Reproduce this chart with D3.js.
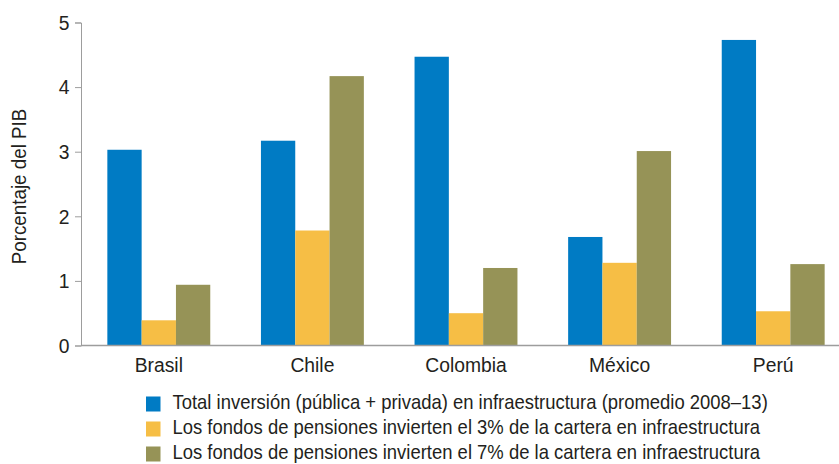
<!DOCTYPE html>
<html lang="es">
<head>
    <meta charset="UTF-8">
    <title>Inversión en infraestructura</title>
    <script src="https://d3js.org/d3.v7.min.js"></script>
    <style>
        body { margin: 0; background: #fff; }
        text { font-family: "Liberation Sans", Arial, sans-serif; fill: #231f20; }
    </style>
</head>
<body>
    <svg id="chart" width="839" height="464"></svg>
    <script>
        const countries = ["Brasil", "Chile", "Colombia", "México", "Perú"];
        const totalInversion = [3.03, 3.17, 4.47, 1.68, 4.73];
        const fondos3 = [0.39, 1.78, 0.50, 1.28, 0.53];
        const fondos7 = [0.94, 4.17, 1.20, 3.01, 1.26];
        const seriesNames = [
            "Total inversión (pública + privada) en infraestructura (promedio 2008–13)",
            "Los fondos de pensiones invierten el 3% de la cartera en infraestructura",
            "Los fondos de pensiones invierten el 7% de la cartera en infraestructura"
        ];
        const yTicks = [0, 1, 2, 3, 4, 5];

        const colors = ["#007bc4", "#f6be45", "#969357"];
        const seriesValues = [totalInversion, fondos3, fondos7];

        const svg = d3.select("#chart");
        const axisColor = "#9d9d9d";
        const squeeze = 0.92; // the original type is a little narrow

        const x = d3.scaleBand()
            .domain(countries)
            .range([82, 850])
            .paddingInner(0.33)
            .paddingOuter(0.165);

        const xs = d3.scaleBand()
            .domain(d3.range(seriesValues.length))
            .range([0, x.bandwidth()]);

        const y = d3.scaleLinear()
            .domain([0, 5])
            .range([345.5, 22.5]);

        // y axis
        const yAxis = svg.append("g")
            .attr("transform", "translate(81,0)")
            .call(d3.axisLeft(y).tickValues(yTicks).tickFormat(d3.format("d")).tickSize(6));
        yAxis.select(".domain").attr("stroke", axisColor);
        yAxis.selectAll(".tick line").attr("stroke", axisColor);
        yAxis.selectAll("text")
            .attr("x", 0)
            .attr("transform", `translate(-11.5,0) scale(${squeeze},1)`)
            .style("font-size", "21px")
            .attr("fill", "#231f20")
            .attr("font-family", null);

        // bars
        seriesValues.forEach((vals, i) => {
            svg.append("g")
                .selectAll("rect")
                .data(countries.map((c, j) => ({c, v: vals[j]})))
                .enter()
                .append("rect")
                    .attr("x", d => x(d.c) + xs(i))
                    .attr("width", xs.bandwidth())
                    .attr("y", d => y(d.v))
                    .attr("height", d => y(0) - y(d.v))
                    .attr("fill", colors[i]);
        });

        // x axis
        const xAxis = svg.append("g")
            .attr("transform", `translate(0,${y(0)})`)
            .call(d3.axisBottom(x).tickSize(0).tickPadding(12));
        xAxis.select(".domain")
            .attr("d", `M81,0H839`)
            .attr("stroke", axisColor)
            .attr("stroke-width", 1.5);
        xAxis.selectAll("text")
            .attr("transform", `scale(${squeeze},1)`)
            .style("font-size", "21px")
            .attr("fill", "#231f20")
            .attr("font-family", null);

        // y axis title
        svg.append("text")
            .attr("transform", `translate(25.5,186.5) rotate(-90) scale(0.94,1)`)
            .attr("text-anchor", "middle")
            .style("font-size", "20px")
            .text("Porcentaje del PIB");

        // legend
        const legend = svg.append("g")
            .selectAll("g")
            .data(seriesNames)
            .enter()
            .append("g")
                .attr("transform", (d, i) => `translate(146,${404 + i * 25})`);
        legend.append("rect")
            .attr("x", 0)
            .attr("y", -7.5)
            .attr("width", 14.5)
            .attr("height", 15)
            .attr("fill", (d, i) => colors[i]);
        legend.append("text")
            .attr("transform", `translate(26.5,4.5) scale(0.9,1)`)
            .style("font-size", "20.5px")
            .text(d => d);
    </script>
</body>
</html>
